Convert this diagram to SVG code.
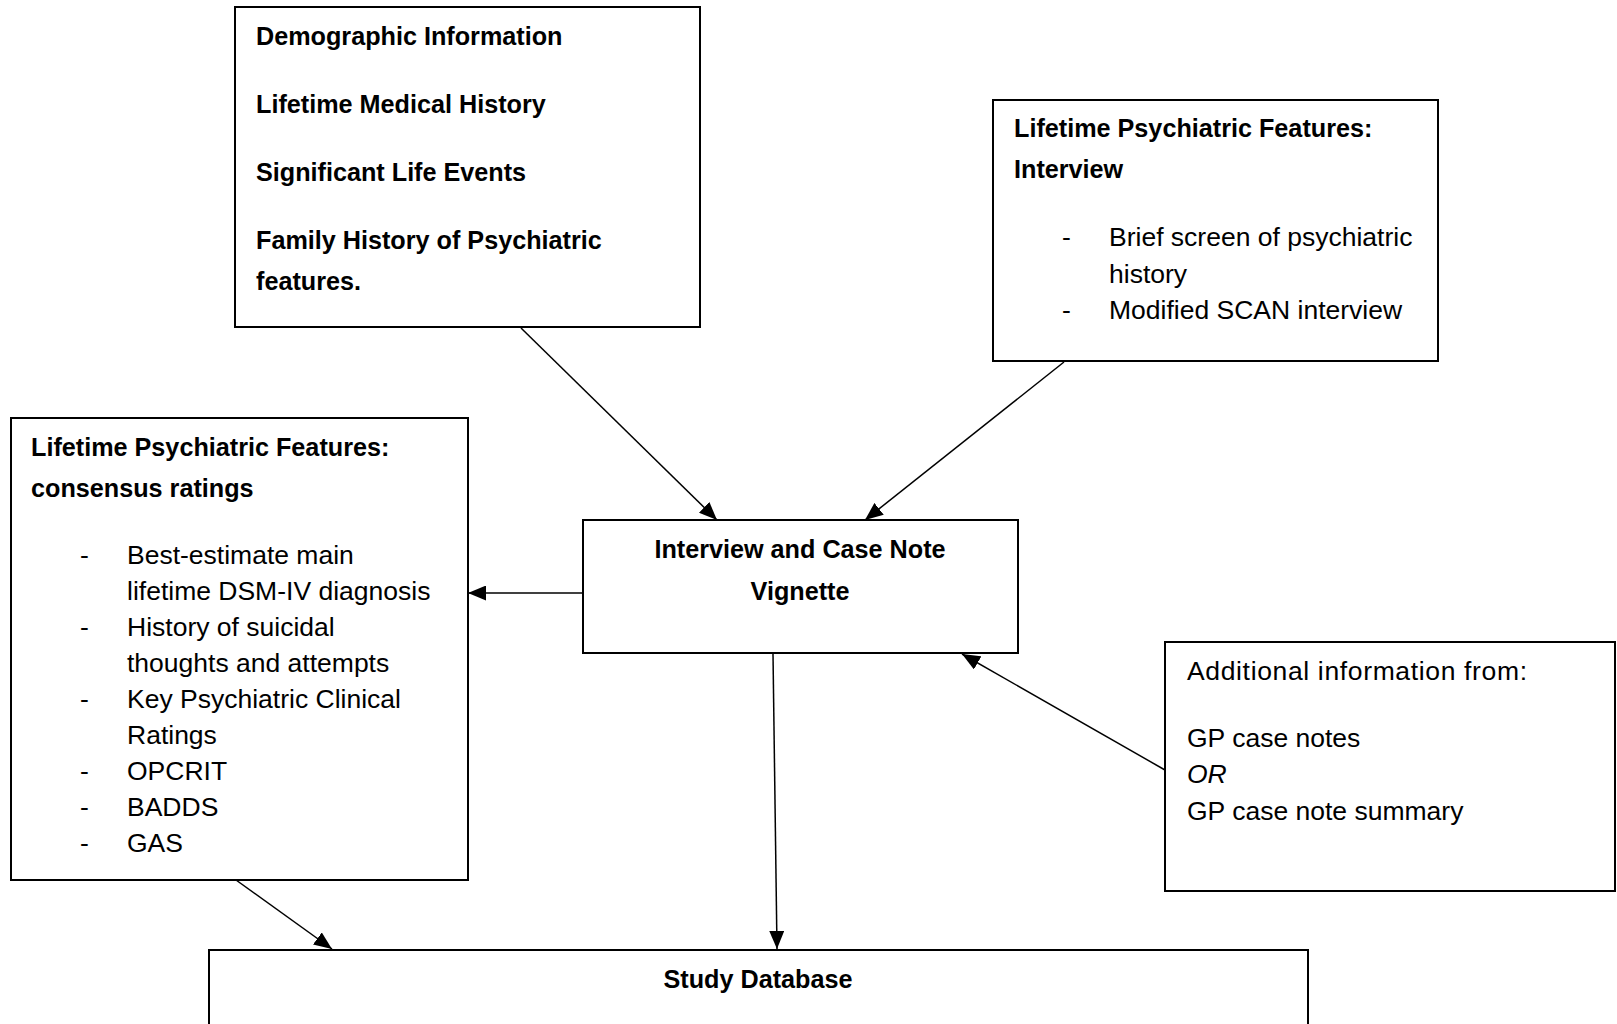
<svg xmlns="http://www.w3.org/2000/svg" width="1617" height="1024" viewBox="0 0 1617 1024">
<style>
.box{fill:#fff;stroke:#000;stroke-width:2}
.b{font-family:"Liberation Sans",Arial,sans-serif;font-weight:bold;font-size:25.2px;fill:#000}
.r{font-family:"Liberation Sans",Arial,sans-serif;font-size:26.5px;fill:#000}
.c{text-anchor:middle}
.i{font-style:italic}
.con{stroke:#000;stroke-width:1.5;fill:none;marker-end:url(#ah)}
</style>
<defs>
<marker id="ah" markerUnits="userSpaceOnUse" markerWidth="19" markerHeight="15" refX="18" refY="7.5" orient="auto">
<path d="M0,0 L18,7.5 L0,15 z" fill="#000"/>
</marker>
</defs>
<rect width="1617" height="1024" fill="#fff"/>
<g id="connectors">
<line class="con" x1="521" y1="328" x2="717" y2="520"/>
<line class="con" x1="1064" y1="362" x2="865" y2="520"/>
<line class="con" x1="583" y1="593" x2="468" y2="593"/>
<line class="con" x1="1165" y1="770" x2="962" y2="654"/>
<line class="con" x1="773" y1="654" x2="777" y2="949"/>
<line class="con" x1="236" y1="880" x2="332" y2="949"/>
</g>
<g id="n-demographic">
<rect class="box" x="235" y="7" width="465" height="320"/>
<text class="b" x="256" y="45">Demographic Information</text>
<text class="b" x="256" y="113">Lifetime Medical History</text>
<text class="b" x="256" y="181">Significant Life Events</text>
<text class="b" x="256" y="249">Family History of Psychiatric</text>
<text class="b" x="256" y="290">features.</text>
</g>
<g id="n-interview">
<rect class="box" x="993" y="100" width="445" height="261"/>
<text class="b" x="1014" y="137">Lifetime Psychiatric Features:</text>
<text class="b" x="1014" y="178">Interview</text>
<text class="r" x="1062" y="246">-</text>
<text class="r" x="1109" y="246">Brief screen of psychiatric</text>
<text class="r" x="1109" y="283">history</text>
<text class="r" x="1062" y="319">-</text>
<text class="r" x="1109" y="319">Modified SCAN interview</text>
</g>
<g id="n-consensus">
<rect class="box" x="11" y="418" width="457" height="462"/>
<text class="b" x="31" y="456">Lifetime Psychiatric Features:</text>
<text class="b" x="31" y="497">consensus ratings</text>
<text class="r" x="80" y="564">-</text>
<text class="r" x="127" y="564">Best-estimate main</text>
<text class="r" x="127" y="600">lifetime DSM-IV diagnosis</text>
<text class="r" x="80" y="636">-</text>
<text class="r" x="127" y="636">History of suicidal</text>
<text class="r" x="127" y="672">thoughts and attempts</text>
<text class="r" x="80" y="708">-</text>
<text class="r" x="127" y="708">Key Psychiatric Clinical</text>
<text class="r" x="127" y="744">Ratings</text>
<text class="r" x="80" y="780">-</text>
<text class="r" x="127" y="780">OPCRIT</text>
<text class="r" x="80" y="816">-</text>
<text class="r" x="127" y="816">BADDS</text>
<text class="r" x="80" y="852">-</text>
<text class="r" x="127" y="852">GAS</text>
</g>
<g id="n-vignette">
<rect class="box" x="583" y="520" width="435" height="133"/>
<text class="b c" x="800" y="558">Interview and Case Note</text>
<text class="b c" x="800" y="600">Vignette</text>
</g>
<g id="n-additional">
<rect class="box" x="1165" y="642" width="450" height="249"/>
<text class="r" x="1187" y="680" textLength="340" lengthAdjust="spacing">Additional information from:</text>
<text class="r" x="1187" y="747">GP case notes</text>
<text class="r i" x="1187" y="783">OR</text>
<text class="r" x="1187" y="820">GP case note summary</text>
</g>
<g id="n-database">
<rect class="box" x="209" y="950" width="1099" height="90"/>
<text class="b c" x="758" y="988">Study Database</text>
</g>
</svg>
